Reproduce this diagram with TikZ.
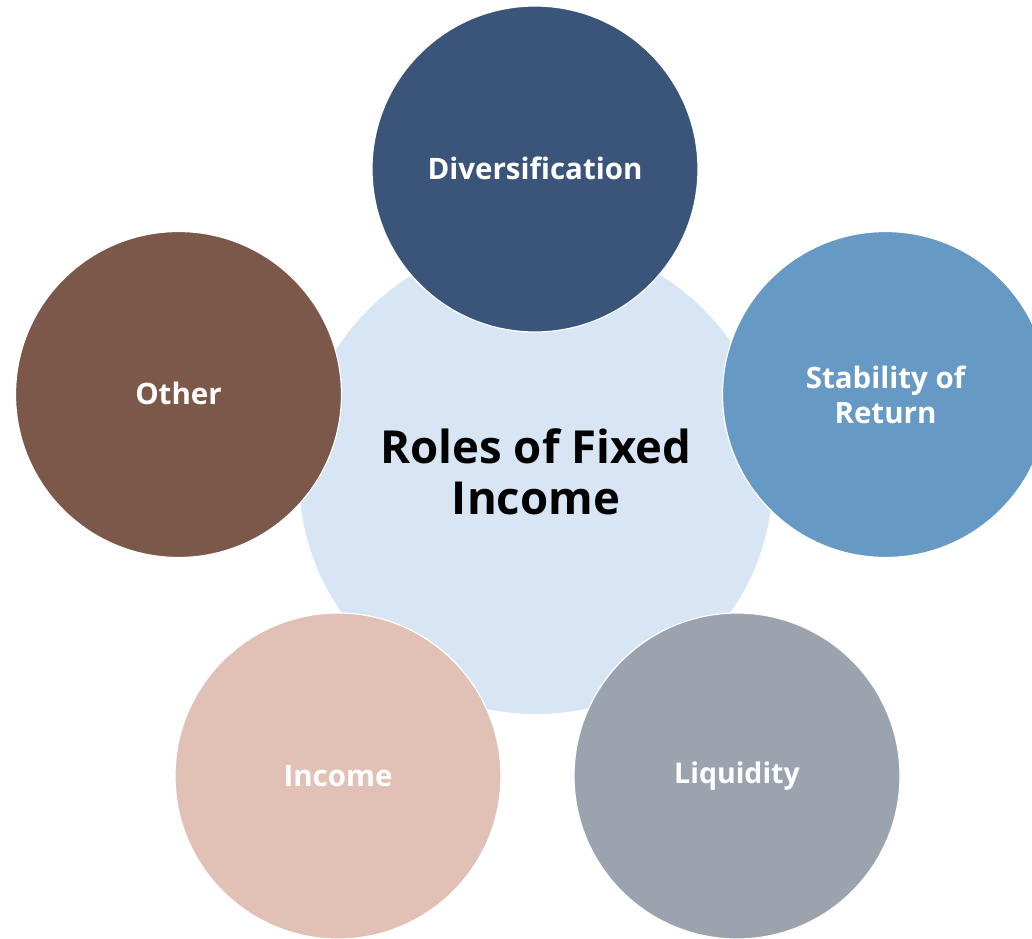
\documentclass[tikz,border=0pt]{standalone}
\usepackage{fontspec}
\setmainfont{Open Sans}
\definecolor{ccenter}{HTML}{D7E5F4}
\definecolor{cdiv}{HTML}{3B557A}
\definecolor{cstab}{HTML}{6699C4}
\definecolor{cliq}{HTML}{9BA4AE}
\definecolor{cinc}{HTML}{E1C1B5}
\definecolor{coth}{HTML}{7C584B}
\tikzset{
  outer/.style={circle, draw=white, line width=1.2pt, minimum size=326pt, inner sep=0pt,
    text=white, font=\bfseries\fontsize{29.5}{35}\selectfont, align=center},
  hub/.style={circle, fill=ccenter, minimum size=474pt, inner sep=0pt},
  hubtext/.style={text=black, font=\bfseries\fontsize{45.5}{51}\selectfont, align=center}
}
\begin{document}
\begin{tikzpicture}[x=1pt,y=-1pt]
\useasboundingbox (0,0) rectangle (1032,938);
\clip (0,0) rectangle (1032,938);
\node[hub] (hub) at (536,477) {};
\node[hubtext] (hubt) at (536,472) {Roles of Fixed\\Income};
\node[outer, fill=cdiv] (div) at (535,169) {\raisebox{2pt}{Diversification}};
\node[outer, fill=cstab] (stab) at (885.5,394.5) {Stability of\\Return};
\node[outer, fill=cliq, font=\bfseries\fontsize{28.5}{35}\selectfont] (liq) at (737,776) {\raisebox{-2pt}{Liquidity}};
\node[outer, fill=cinc] (inc) at (338,776) {Income};
\node[outer, fill=coth] (oth) at (178.5,394.5) {\raisebox{2pt}{Other}};
\end{tikzpicture}
\end{document}
